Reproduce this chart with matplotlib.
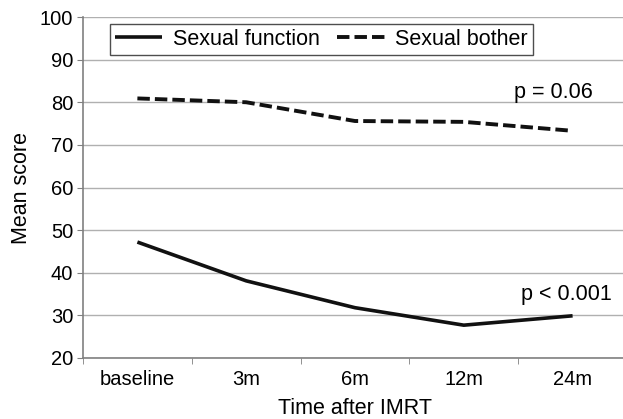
import numpy as np
import matplotlib
matplotlib.use('Agg')
import matplotlib.pyplot as plt

plt.rcParams['font.family'] = ['Liberation Sans', 'DejaVu Sans']

timepoints = ["baseline", "3m", "6m", "12m", "24m"]
sexual_function = [47.2, 38.1, 31.8, 27.7, 29.9]
sexual_bother = [80.9, 80.0, 75.6, 75.4, 73.3]

fig = plt.figure(figsize=(6.23, 4.19), dpi=100)
ax = fig.add_axes([0.1332, 0.1456, 0.8732, 0.8138])

x = np.arange(len(timepoints))
ax.plot(x, sexual_function, color="#111111", linewidth=2.6, linestyle="-",
        solid_capstyle="butt", label="Sexual function")
ax.plot(x, sexual_bother, color="#111111", linewidth=2.8, linestyle=(0, (3.2, 1.3)),
        dash_capstyle="butt", label="Sexual bother")

ax.set_xlim(-0.5, len(timepoints) - 0.5)
ax.set_ylim(20, 100)
ax.set_yticks(range(20, 101, 10))
ax.set_xticks(x)
ax.set_xticklabels(timepoints)
ax.set_xticks(np.arange(-0.5, len(timepoints), 1.0), minor=True)
ax.tick_params(axis="x", which="major", length=0, labelsize=14.5, pad=9)
ax.tick_params(axis="x", which="minor", length=4, color="#808080", direction="out")
ax.tick_params(axis="y", length=4, color="#808080", labelsize=14.5, pad=3)

ax.grid(True, axis="y", color="#b0b0b0", linewidth=1.0)
ax.set_axisbelow(True)
for s in ["top", "right"]:
    ax.spines[s].set_visible(False)
for s in ["left", "bottom"]:
    ax.spines[s].set_color("#808080")
    ax.spines[s].set_linewidth(1.2)

ax.set_xlabel("Time after IMRT", fontsize=15.5, labelpad=6)
ax.set_ylabel("Mean score", fontsize=15.5, labelpad=6)

ax.text(3.46, 82.4, "p = 0.06", fontsize=15.5, ha="left", va="center")
ax.text(3.53, 35.0, "p < 0.001", fontsize=15.5, ha="left", va="center")

leg = ax.legend(loc="upper left", bbox_to_anchor=(0.05, 0.979), ncol=2, fontsize=15.5,
                frameon=True, fancybox=False, handlelength=2.2, columnspacing=0.8,
                handletextpad=0.5, borderpad=0.22, borderaxespad=0)
leg.get_frame().set_edgecolor("#222222")
leg.get_frame().set_linewidth(1.0)

plt.savefig("out.png", dpi=100)
